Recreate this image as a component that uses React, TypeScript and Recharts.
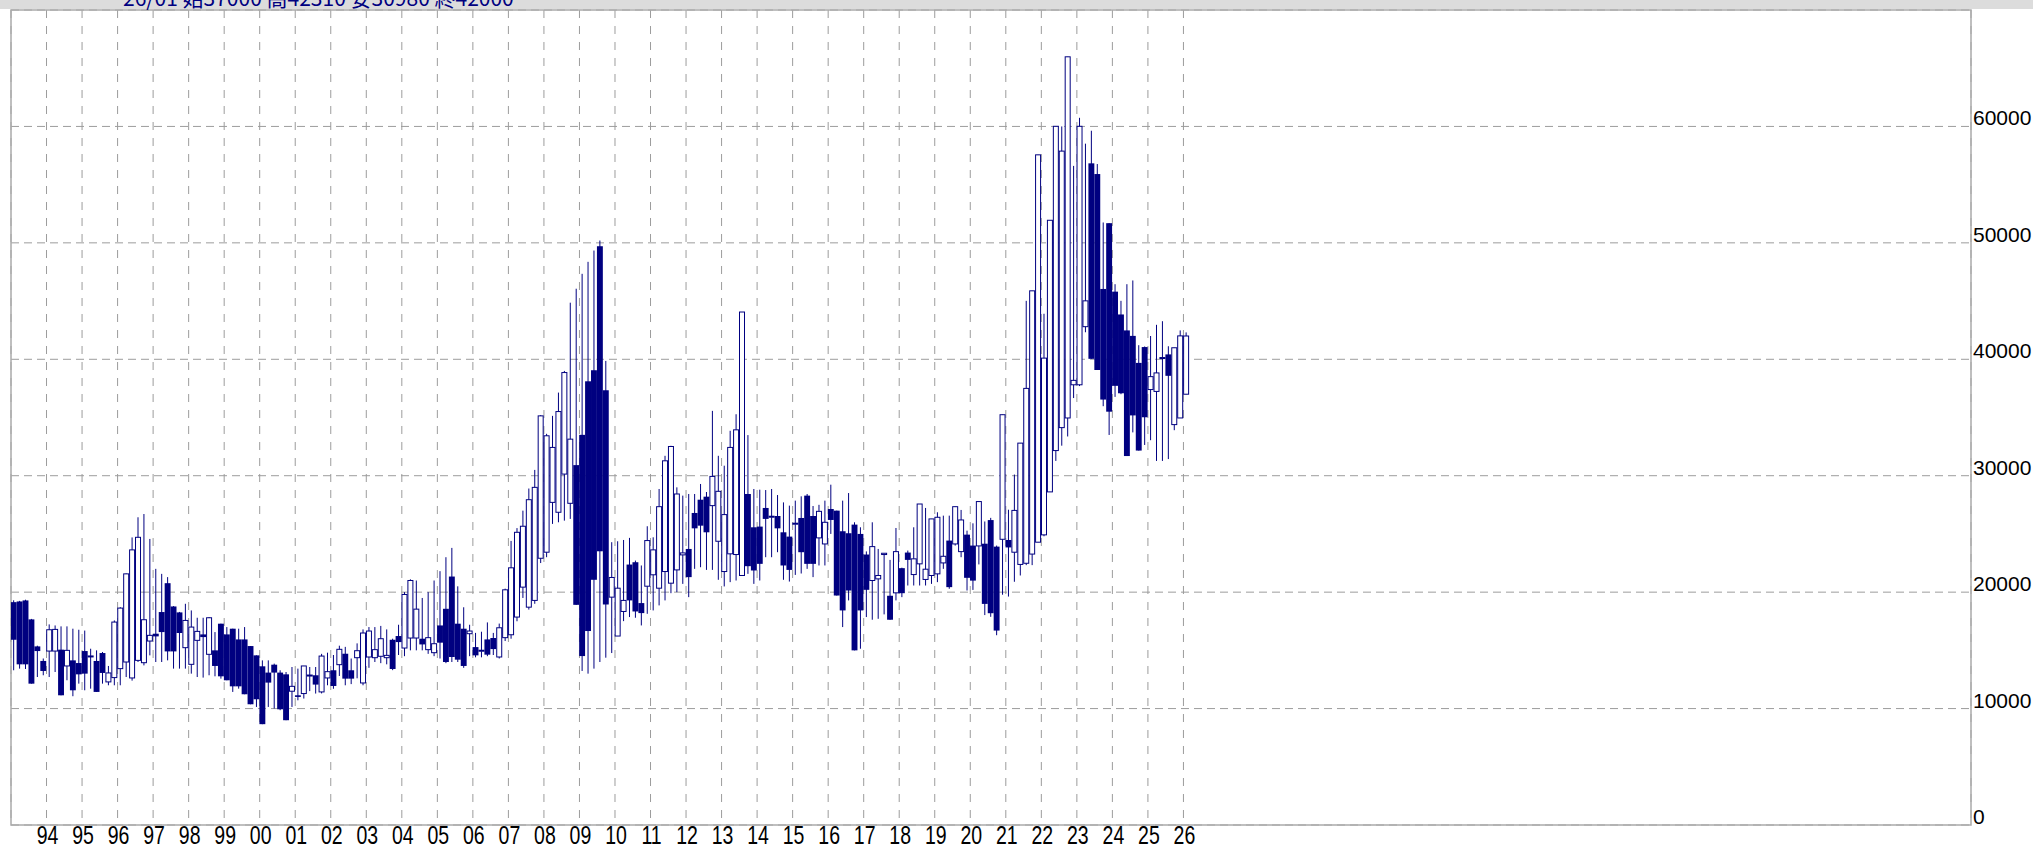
import React from 'react';
import { ComposedChart, Bar, XAxis, YAxis, CartesianGrid, ReferenceArea } from 'recharts';

// Bi-monthly candles, 93/01 .. 26/01
const opens = [
  19140, 19200, 19290, 17660, 15340, 14090, 14940, 14940, 15060, 13660,
  14140, 13910, 14940, 14490, 14090, 14770, 12290, 12660, 13430, 14000,
  12630, 14140, 13940, 15800, 16430, 18290, 20770, 18770, 18260, 15230,
  13800, 15860, 16370, 14660, 15000, 17290, 16370, 16860, 15940, 15940,
  15370, 14570, 13630, 13090, 13770, 13090, 12940, 11490, 11140, 11290,
  12860, 12860, 11430, 12630, 13290, 13770, 14710, 13290, 14370, 12200,
  14430, 14370, 14490, 14370, 15910, 16230, 15200, 16060, 16060, 16000,
  15060, 14800, 17140, 18570, 21340, 17290, 16860, 16430, 15280, 15000,
  15940, 16060, 14430, 16090, 16340, 17860, 20430, 18710, 19290, 22910,
  23430, 27710, 26860, 30140, 27630, 30910, 33510, 38110, 39060, 49710,
  37340, 19570, 16230, 18340, 22370, 22570, 19060, 20510, 21490, 20340,
  21770, 20770, 21910, 23200, 23710, 26800, 27940, 28200, 27430, 24370,
  21770, 23290, 23230, 21430, 28430, 25570, 25630, 27230, 26500, 26540,
  25140, 24770, 25900, 26370, 28290, 26540, 24660, 24140, 27140, 27000,
  25230, 25060, 25800, 25000, 23230, 21000, 21140, 23230, 19690, 19940,
  22060, 23400, 21510, 22430, 21090, 21430, 21570, 22510, 24430, 24140,
  23480, 24940, 24000, 23970, 24160, 26190, 23910, 24540, 24480, 23430,
  22380, 22480, 23270, 24290, 24920, 28610, 32160, 34130, 34960, 37810,
  37810, 42800, 56830, 55910, 46040, 51690, 45810, 43850, 42480, 42010,
  39690, 41050, 37400, 37240, 40100, 40420, 34390, 34960, 37000,
];
const highs = [
  19300, 19250, 19350, 17700, 15400, 14300, 17230, 17140, 17060, 17060,
  16860, 16770, 16700, 15140, 15000, 14860, 13660, 17570, 18710, 21600,
  24700, 26430, 26710, 24570, 22000, 21570, 21290, 18800, 18300, 19000,
  18430, 17800, 17800, 17860, 16570, 17290, 17000, 16860, 16860, 17000,
  15370, 14570, 14140, 14140, 13860, 13290, 13140, 13570, 13430, 13660,
  13570, 13570, 14700, 14800, 14600, 15400, 15300, 14300, 15600, 16800,
  17000, 17000, 17100, 16800, 16000, 17200, 20000, 21100, 21000, 19500,
  20000, 21000, 21800, 23000, 23800, 20500, 18700, 17200, 16500, 16600,
  17400, 16500, 17300, 20300, 24400, 25500, 27000, 28900, 30500, 35200,
  33600, 35140, 37140, 39000, 44860, 46060, 47340, 48370, 49340, 50200,
  39860, 24290, 24370, 24480, 24660, 22710, 22290, 25660, 24710, 28860,
  31710, 32570, 29000, 28290, 28430, 28430, 29290, 28600, 35570, 31710,
  30860, 33860, 35280, 44060, 33490, 28860, 28800, 28770, 28860, 28340,
  27710, 27430, 27860, 28230, 28430, 27400, 27500, 27860, 29230, 27000,
  27860, 28510, 26000, 25570, 23500, 26000, 23710, 23340, 22770, 25510,
  22100, 23570, 25570, 27570, 27230, 26290, 26860, 26570, 26570, 27340,
  27060, 25280, 25910, 27780, 26070, 26380, 24000, 35240, 27080, 30100,
  32800, 45020, 45880, 57560, 43910, 51940, 60010, 60000, 65980, 56610,
  60740, 58520, 59630, 56770, 51750, 51690, 46450, 45020, 46450, 46770,
  41210, 41100, 42000, 42960, 43270, 41120, 40990, 42480, 42310,
];
const lows = [
  13290, 13430, 13400, 12140, 12710, 12860, 12710, 13140, 11140, 12430,
  11060, 12140, 11570, 11710, 11430, 12140, 12000, 12000, 12000, 12710,
  12400, 14000, 13710, 14570, 14000, 14000, 14140, 13430, 13430, 13430,
  13000, 12710, 12660, 12860, 12770, 12570, 12430, 11430, 11710, 11230,
  10370, 10140, 8660, 10140, 10000, 9860, 9000, 10140, 10710, 10860,
  11500, 11290, 11300, 12000, 11700, 12800, 12000, 12100, 12600, 12000,
  13500, 14000, 13900, 13800, 13300, 14600, 14500, 15000, 15000, 15000,
  14700, 14500, 14300, 13900, 14000, 14000, 13500, 14500, 14400, 14400,
  14500, 14600, 14300, 15800, 16000, 17500, 19500, 18500, 19000, 22500,
  23000, 25860, 26000, 26140, 26290, 18910, 13230, 13000, 13430, 14000,
  14370, 14770, 16230, 17510, 17860, 17800, 17140, 18140, 18430, 18860,
  19290, 19910, 20000, 20710, 19570, 22000, 22140, 21910, 21910, 21060,
  20490, 20860, 21000, 21400, 21570, 20710, 21000, 23000, 23000, 23430,
  21060, 20910, 21480, 21600, 22000, 21290, 22290, 22290, 25000, 19710,
  17000, 19290, 15000, 15140, 17860, 17630, 17710, 18090, 17630, 19290,
  19570, 20570, 20570, 20570, 20570, 20710, 20860, 22000, 20290, 24000,
  23000, 20140, 20190, 22380, 18030, 17880, 16300, 19780, 19620, 20890,
  21430, 22320, 22320, 24290, 24800, 28610, 31270, 32580, 33370, 36670,
  37700, 42320, 40040, 39080, 35970, 33500, 36770, 37000, 31690, 33720,
  32160, 32640, 33050, 31270, 31270, 31430, 33910, 34960, 36990,
];
const closes = [
  15910, 13800, 13800, 12140, 14940, 13230, 16770, 16800, 11140, 15000,
  11570, 12940, 13000, 14520, 11430, 13060, 13060, 17430, 18630, 21570,
  23630, 24710, 17630, 16290, 16200, 16570, 14910, 14910, 16490, 17570,
  17000, 16630, 16140, 17800, 13660, 12770, 12430, 11910, 11910, 11230,
  10370, 10800, 8660, 12230, 13090, 9940, 9000, 11910, 11000, 13660,
  12880, 12060, 14510, 13170, 11940, 15090, 12570, 12570, 14970, 16490,
  16660, 15060, 16000, 14570, 13400, 15710, 19800, 21000, 18540, 15510,
  16090, 15570, 15660, 14000, 14430, 14200, 13660, 16660, 14570, 15010,
  14630, 15110, 16940, 20200, 22090, 25140, 25660, 27940, 29000, 35140,
  33430, 32430, 35510, 38860, 33140, 18910, 14510, 16660, 21060, 23510,
  18940, 21260, 20340, 19290, 19290, 18340, 18200, 24430, 23630, 27340,
  31280, 32510, 28430, 23370, 21290, 25480, 25710, 25140, 29940, 28660,
  26660, 32430, 33940, 44060, 22230, 21860, 22430, 26290, 26520, 25480,
  22290, 21910, 25920, 23430, 22430, 22430, 26940, 26000, 26200, 19710,
  18430, 20140, 15000, 18430, 20200, 23910, 21430, 23340, 17630, 23480,
  19910, 22770, 22860, 27570, 21970, 26290, 26430, 23080, 20430, 27340,
  26200, 21230, 20990, 27780, 18990, 18190, 16700, 35240, 23840, 27020,
  32800, 37500, 45880, 57560, 40100, 51940, 60010, 57880, 65980, 38190,
  60010, 45020, 40040, 39080, 36540, 35500, 37720, 37080, 31690, 35180,
  32160, 35020, 38510, 38830, 40150, 38580, 40990, 42010, 42000,
];

const yearLabels = [
  '94', '95', '96', '97', '98', '99', '00', '01', '02', '03', '04',
  '05', '06', '07', '08', '09', '10', '11', '12', '13', '14', '15',
  '16', '17', '18', '19', '20', '21', '22', '23', '24', '25', '26',
];
const yearTicks = yearLabels.map((_, k) => 6 * (k + 1));
const priceTicks = [0, 10000, 20000, 30000, 40000, 50000, 60000];
const headerText = '26/01 始37000 高42310 安30980 終42000';

const data = opens.map((o, i) => ({
  x: i + 0.5,
  o,
  h: highs[i],
  l: lows[i],
  c: closes[i],
  range: [lows[i], highs[i]],
}));

const NAVY = '#000080';
const GRID = '#9c9c9c';
const BORDER = '#ababab';

function Candle(props: any) {
  const { x, y, width, height, payload } = props;
  if (!payload || x == null || y == null) return null;
  const { o, h, l, c } = payload;
  const top0 = Math.min(y, y + height);
  const hh = Math.abs(height);
  const k = h === l ? 0 : hh / (h - l);
  const yOf = (v: number) => top0 + (h - v) * k;
  const cx = x + width / 2;
  const up = c >= o;
  const bTop = yOf(Math.max(o, c));
  const bBot = yOf(Math.min(o, c));
  const bh = Math.max(bBot - bTop, 1);
  return (
    <g>
      <line x1={cx} x2={cx} y1={yOf(h)} y2={yOf(l)} stroke={NAVY} strokeWidth={1} />
      {up ? (
        <rect x={cx - 2.5} y={bTop} width={5} height={bh} fill="#ffffff" stroke={NAVY} strokeWidth={1} />
      ) : (
        <rect x={cx - 2.95} y={bTop} width={5.9} height={bh} fill={NAVY} />
      )}
    </g>
  );
}

function XTick(props: any) {
  const { x, y, payload } = props;
  const idx = yearTicks.indexOf(payload.value);
  return (
    <g transform={`translate(${x + 1},${y + 19}) scale(0.78,1)`}>
      <text x={0} y={0} textAnchor="middle" fontSize={25} fontFamily="'Liberation Sans', Arial, sans-serif" fill="#000">
        {idx >= 0 ? yearLabels[idx] : ''}
      </text>
    </g>
  );
}

function YTick(props: any) {
  const { x, y, payload } = props;
  return (
    <text x={x + 2} y={y - 1} textAnchor="start" fontSize={21} fontFamily="'Liberation Sans', Arial, sans-serif" fill="#000">
      {String(payload.value)}
    </text>
  );
}

export default function App() {
  return (
    <div style={{ position: 'absolute', left: 0, top: 0, width: 2033, height: 849, background: '#ffffff', overflow: 'hidden' }}>
      <ComposedChart
        width={2033}
        height={849}
        data={data}
        margin={{ top: 10, right: 0, bottom: 0, left: 11 }}
      >
        <CartesianGrid horizontal={false} vertical stroke={GRID} strokeDasharray="8 8" />
        <CartesianGrid vertical={false} horizontal stroke={GRID} strokeDasharray="8 5" />
        <XAxis
          type="number"
          dataKey="x"
          domain={[0, 331]}
          ticks={yearTicks}
          interval={0}
          allowDataOverflow
          height={24}
          axisLine={false}
          tickLine={false}
          tickSize={0}
          tickMargin={0}
          tick={<XTick />}
        />
        <YAxis
          orientation="right"
          domain={[0, 70000]}
          ticks={priceTicks}
          interval={0}
          allowDataOverflow
          width={62}
          axisLine={false}
          tickLine={false}
          tickSize={0}
          tickMargin={0}
          tick={<YTick />}
        />
        <Bar dataKey="range" barSize={6} shape={<Candle />} isAnimationActive={false} />
        <ReferenceArea x1={0} x2={331} y1={0} y2={70000} fill="none" stroke={BORDER} strokeWidth={1.5} ifOverflow="visible" />
      </ComposedChart>
      <svg width={2033} height={10} style={{ position: 'absolute', left: 0, top: 0 }}>
        <rect x={0} y={0} width={2033} height={9} fill="#dcdcdc" />
        <text x={123} y={6} fontSize={21} fontFamily="'Noto Sans CJK JP', sans-serif" fill={NAVY}>
          {headerText}
        </text>
      </svg>
    </div>
  );
}
